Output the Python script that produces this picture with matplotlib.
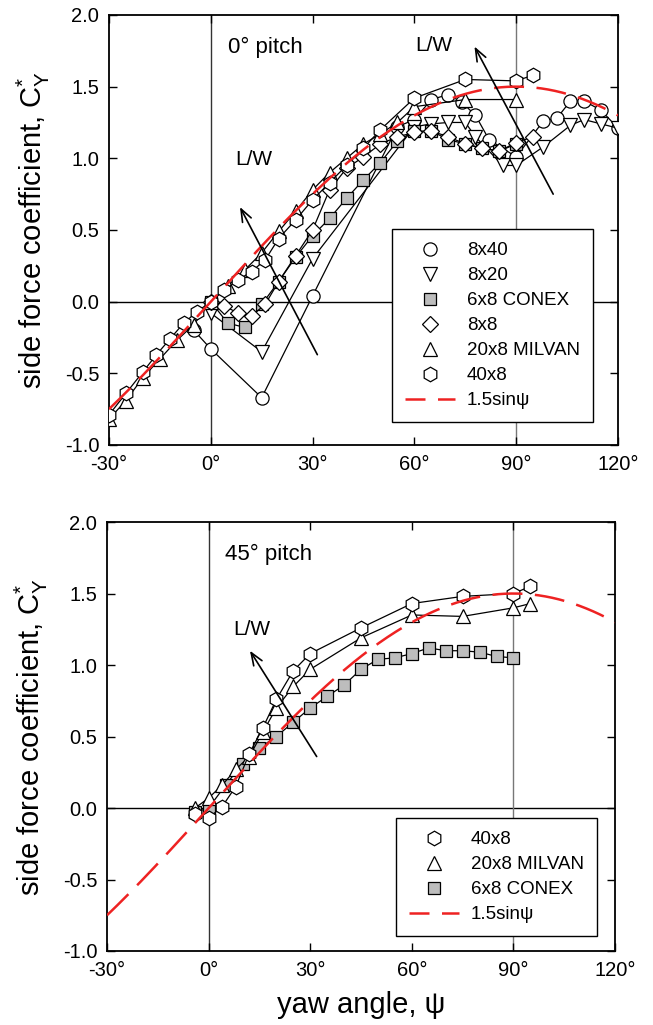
import numpy as np
import matplotlib.pyplot as plt
from matplotlib.lines import Line2D

plt.rcParams['font.family'] = ['Liberation Sans', 'DejaVu Sans']
plt.rcParams['mathtext.fontset'] = 'custom'
plt.rcParams['mathtext.rm'] = 'Liberation Sans'
plt.rcParams['mathtext.it'] = 'Liberation Sans:italic'
plt.rcParams['axes.unicode_minus'] = False

# ---- 0 deg pitch ----
yaw_8x40 = [-5, 0, 15, 30, 55, 60, 65, 70, 74, 78, 82, 90, 98, 102, 106, 110, 115, 120]
cy_8x40 = [-0.20, -0.33, -0.67, 0.04, 1.22, 1.27, 1.41, 1.445, 1.39, 1.30, 1.13, 1.01,
           1.26, 1.28, 1.40, 1.40, 1.335, 1.21]

yaw_8x20 = [0, 15, 30, 60, 65, 70, 75, 78, 86, 90, 98, 106, 110, 115, 120]
cy_8x20 = [-0.08, -0.35, 0.30, 1.22, 1.24, 1.25, 1.25, 1.15, 0.95, 0.95, 1.08, 1.23, 1.27, 1.24, 1.21]

yaw_conex0 = [0, 5, 10, 15, 20, 25, 30, 35, 40, 45, 50, 55, 60, 65, 70, 75, 80, 85, 90]
cy_conex0 = [0.0, -0.15, -0.18, -0.02, 0.14, 0.31, 0.46, 0.58, 0.72, 0.85, 0.97, 1.12,
             1.19, 1.19, 1.13, 1.10, 1.07, 1.05, 1.10]

yaw_8x8 = [0, 4, 8, 12, 16, 20, 25, 30, 35, 40, 45, 50, 55, 60, 65, 70, 75, 80, 85, 90, 95]
cy_8x8 = [0.0, -0.03, -0.08, -0.10, -0.02, 0.14, 0.32, 0.50, 0.78, 0.93, 1.01, 1.10,
          1.15, 1.18, 1.19, 1.15, 1.10, 1.07, 1.05, 1.11, 1.15]

yaw_milvan0 = [-30, -25, -20, -15, -10, -5, 0, 5, 10, 15, 20, 25, 30, 35, 40, 45, 50, 55, 60, 75, 90]
cy_milvan0 = [-0.82, -0.69, -0.53, -0.40, -0.27, -0.16, 0.0, 0.11, 0.22, 0.34, 0.49, 0.63,
              0.78, 0.90, 1.00, 1.10, 1.17, 1.25, 1.36, 1.41, 1.41]

yaw_40x8_0 = [-30, -25, -20, -16, -12, -8, -4, 0, 4, 8, 12, 16, 20, 25, 30, 35, 40, 45, 50, 60, 75, 90, 95]
cy_40x8_0 = [-0.79, -0.64, -0.49, -0.37, -0.26, -0.15, -0.07, 0.0, 0.08, 0.15, 0.21, 0.29,
             0.44, 0.57, 0.71, 0.83, 0.95, 1.07, 1.20, 1.42, 1.55, 1.54, 1.58]

# ---- 45 deg pitch ----
yaw_40x8_45 = [-4, 0, 4, 8, 12, 16, 20, 25, 30, 45, 60, 75, 90, 95]
cy_40x8_45 = [-0.04, -0.07, 0.01, 0.15, 0.38, 0.56, 0.76, 0.96, 1.08, 1.26, 1.43, 1.48, 1.50, 1.55]

yaw_milvan45 = [-4, 0, 4, 8, 12, 16, 20, 25, 30, 45, 60, 75, 90, 95]
cy_milvan45 = [0.0, 0.07, 0.16, 0.27, 0.36, 0.53, 0.70, 0.85, 0.97, 1.19, 1.35, 1.34, 1.40, 1.43]

yaw_conex45 = [-4, 0, 5, 10, 15, 20, 25, 30, 35, 40, 45, 50, 55, 60, 65, 70, 75, 80, 85, 90]
cy_conex45 = [-0.03, 0.0, 0.16, 0.31, 0.42, 0.50, 0.60, 0.70, 0.78, 0.86, 0.97, 1.04,
              1.05, 1.08, 1.12, 1.10, 1.10, 1.09, 1.06, 1.05]

xticks = [-30, 0, 30, 60, 90, 120]
yticks = [-1.0, -0.5, 0.0, 0.5, 1.0, 1.5, 2.0]

RED = '#ee2222'
GRAY = '#bdbdbd'
styles = {
    '8x40': dict(marker='o', ms=9.5, mfc='white'),
    '8x20': dict(marker='v', ms=10, mfc='white'),
    '6x8 CONEX': dict(marker='s', ms=8.5, mfc=GRAY),
    '8x8': dict(marker='D', ms=8, mfc='white'),
    '20x8 MILVAN': dict(marker='^', ms=10, mfc='white'),
    '40x8': dict(marker='h', ms=10.5, mfc='white'),
}


def draw_series(ax, x, y, name):
    ax.plot(x, y, color='black', lw=0.9, mec='black', mew=0.9, zorder=3, **styles[name])


def draw_sine(ax):
    psi = np.linspace(-30, 120, 300)
    ax.plot(psi, 1.5 * np.sin(np.radians(psi)), color=RED, lw=1.8,
            dashes=(12, 5), zorder=4)


def style_axes(ax):
    ax.set_xlim(-30, 120)
    ax.set_ylim(-1.0, 2.0)
    ax.set_xticks(xticks)
    ax.set_xticklabels([f"{t}\u00b0" for t in xticks])
    ax.set_yticks(yticks)
    ax.set_yticklabels([f"{t:.1f}" for t in yticks])
    ax.tick_params(direction='in', length=6, width=1, top=True, right=True,
                   labelsize=14.5, pad=7)
    for s in ax.spines.values():
        s.set_linewidth(1.3)
    ax.axhline(0, color='black', lw=1, zorder=1)
    ax.axvline(0, color='#333333', lw=1, zorder=1)
    ax.axvline(90, color='#777777', lw=1, zorder=1)
    ax.set_ylabel('side force coefficient, C$^{*}_{\\mathrm{Y}}$', fontsize=21, labelpad=9)


def make_legend(ax, names, anchor):
    handles = []
    for n in names:
        if n == 'sine':
            handles.append(Line2D([], [], color=RED, lw=1.8, dashes=(8, 5)))
        else:
            handles.append(Line2D([], [], ls='none', color='black', mec='black', mew=0.9,
                                  **styles[n]))
    labels = ['1.5sin\u03c8' if n == 'sine' else n for n in names]
    leg = ax.legend(handles, labels, loc='upper left', bbox_to_anchor=anchor,
                    bbox_transform=ax.figure.transFigure, fontsize=13.5,
                    frameon=True, fancybox=False, framealpha=1, edgecolor='black',
                    borderaxespad=0, borderpad=0.7, labelspacing=0.42,
                    handlelength=2.7, handletextpad=0.6, numpoints=1)
    leg.get_frame().set_linewidth(1)
    leg.set_zorder(10)


fig = plt.figure(figsize=(6.53, 10.25), dpi=100)
ax1 = fig.add_axes([0.1669, 0.5659, 0.7795, 0.4195])
ax2 = fig.add_axes([0.1639, 0.0722, 0.7780, 0.4185])

# top panel
style_axes(ax1)
draw_series(ax1, yaw_8x40, cy_8x40, '8x40')
draw_series(ax1, yaw_8x20, cy_8x20, '8x20')
draw_series(ax1, yaw_conex0, cy_conex0, '6x8 CONEX')
draw_series(ax1, yaw_8x8, cy_8x8, '8x8')
draw_series(ax1, yaw_milvan0, cy_milvan0, '20x8 MILVAN')
draw_series(ax1, yaw_40x8_0, cy_40x8_0, '40x8')
draw_sine(ax1)
ax1.text(16, 1.77, '0\u00b0 pitch', fontsize=16, ha='center', va='center')
ax1.text(12.6, 0.99, 'L/W', fontsize=15, ha='center', va='center')
ax1.text(65.6, 1.79, 'L/W', fontsize=15, ha='center', va='center')
arrow = dict(arrowstyle='->,head_length=0.9,head_width=0.35', color='black', lw=1.2,
             shrinkA=0, shrinkB=0)
ax1.annotate('', xy=(8.6, 0.66), xytext=(31.4, -0.37), arrowprops=arrow, zorder=6)
ax1.annotate('', xy=(77.7, 1.78), xytext=(100.9, 0.75), arrowprops=arrow, zorder=6)
make_legend(ax1, ['8x40', '8x20', '6x8 CONEX', '8x8', '20x8 MILVAN', '40x8', 'sine'],
            (391.7 / 653, 1 - 229 / 1025))

# bottom panel
style_axes(ax2)
draw_series(ax2, yaw_conex45, cy_conex45, '6x8 CONEX')
draw_series(ax2, yaw_milvan45, cy_milvan45, '20x8 MILVAN')
draw_series(ax2, yaw_40x8_45, cy_40x8_45, '40x8')
draw_sine(ax2)
ax2.text(17.6, 1.77, '45\u00b0 pitch', fontsize=16, ha='center', va='center')
ax2.text(12.7, 1.25, 'L/W', fontsize=15, ha='center', va='center')
ax2.annotate('', xy=(12.2, 1.10), xytext=(31.9, 0.36), arrowprops=arrow, zorder=6)
ax2.set_xlabel('yaw angle, \u03c8', fontsize=21, labelpad=8)
make_legend(ax2, ['40x8', '20x8 MILVAN', '6x8 CONEX', 'sine'],
            (395.7 / 653, 1 - 818 / 1025))

fig.savefig('out.png', dpi=100)
